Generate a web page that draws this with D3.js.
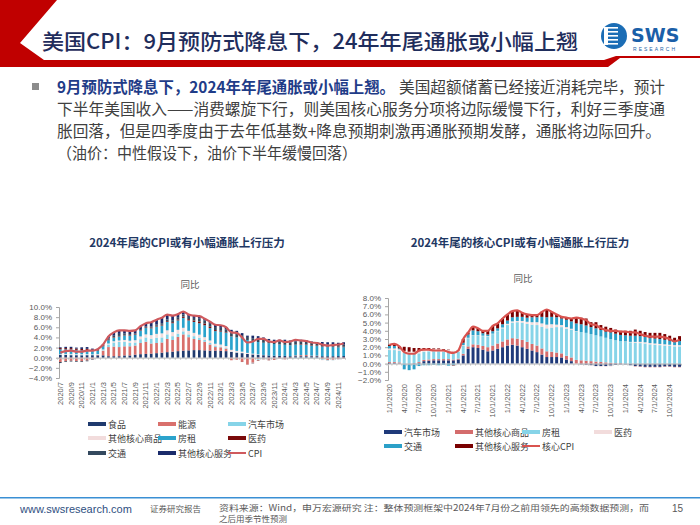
<!DOCTYPE html>
<html><head><meta charset="utf-8">
<script src="https://cdn.jsdelivr.net/npm/d3@7"></script>
<style>body{margin:0;background:#fff}svg{display:block}</style>
</head><body><svg id="s" width="700" height="525"></svg>
<script>
// ---------- DATA: left chart (CPI YoY contributions) ----------
const leftCats = ["2020/7","2020/8","2020/9","2020/10","2020/11","2020/12",
"2021/1","2021/2","2021/3","2021/4","2021/5","2021/6","2021/7","2021/8","2021/9","2021/10","2021/11","2021/12",
"2022/1","2022/2","2022/3","2022/4","2022/5","2022/6","2022/7","2022/8","2022/9","2022/10","2022/11","2022/12",
"2023/1","2023/2","2023/3","2023/4","2023/5","2023/6","2023/7","2023/8","2023/9","2023/10","2023/11","2023/12",
"2024/1","2024/2","2024/3","2024/4","2024/5","2024/6","2024/7","2024/8","2024/9","2024/10","2024/11","2024/12"];
const leftSeriesNames = ["食品","能源","汽车市场","其他核心商品","房租","医药","交通","其他核心服务"];
const food = [0.55,0.55,0.5,0.5,0.48,0.5, 0.5,0.47,0.47,0.3,0.3,0.3,0.45,0.45,0.6,0.7,0.75,0.8, 0.9,1.0,1.1,1.2,1.3,1.4,1.45,1.5,1.5,1.45,1.4,1.4, 1.35,1.3,1.15,1.0,0.9,0.75,0.65,0.55,0.5,0.45,0.4,0.37, 0.35,0.3,0.3,0.3,0.3,0.3,0.3,0.3,0.3,0.3,0.32,0.33];
const energy = [-0.85,-0.7,-0.6,-0.65,-0.7,-0.55, -0.3,0.1,0.9,1.8,1.9,1.8,1.8,1.8,1.8,2.2,2.4,2.0, 2.0,2.0,2.6,2.3,2.8,3.2,2.6,2.2,2.0,1.7,1.2,0.7, 0.7,0.5,-0.5,-0.4,-0.8,-1.3,-1.0,-0.3,-0.05,-0.35,-0.4,-0.15, -0.35,-0.1,0.15,0.2,0.25,0.1,0.1,-0.3,-0.5,-0.4,-0.3,-0.2];
const vehicles = [0.05,0.1,0.15,0.1,0.1,0.1, 0.05,0.05,0.1,0.5,0.8,1.0,0.9,0.7,0.6,0.75,0.85,0.95, 1.05,1.0,0.9,0.75,0.65,0.6,0.55,0.55,0.45,0.35,0.3,0.2, 0.15,0.1,0.05,0.05,0.05,0.0,-0.1,-0.15,-0.15,-0.05,0.0,0.0, -0.05,-0.05,-0.1,-0.1,-0.1,-0.15,-0.15,-0.15,-0.1,-0.1,-0.05,-0.05];
const otherGoods = [0.1,0.1,0.1,0.1,0.1,0.1, 0.1,0.1,0.15,0.2,0.25,0.3,0.35,0.4,0.45,0.55,0.6,0.7, 0.75,0.8,0.8,0.8,0.75,0.7,0.7,0.65,0.6,0.55,0.5,0.45, 0.4,0.4,0.35,0.3,0.25,0.2,0.15,0.1,0.05,0.0,0.0,0.0, -0.05,-0.05,-0.05,-0.05,-0.05,-0.05,-0.05,-0.05,-0.05,-0.05,0.0,0.0];
const rent = [0.95,0.9,0.9,0.85,0.8,0.8, 0.7,0.7,0.65,0.65,0.7,0.8,0.9,1.0,1.05,1.15,1.25,1.35, 1.45,1.55,1.65,1.75,1.85,1.95,2.05,2.15,2.25,2.35,2.45,2.5, 2.55,2.6,2.65,2.65,2.6,2.55,2.5,2.45,2.4,2.4,2.3,2.25, 2.2,2.15,2.1,2.05,2.0,1.95,1.9,1.85,1.8,1.8,1.75,1.75];
const medical = [0.25,0.25,0.25,0.25,0.25,0.25, 0.2,0.15,0.15,0.15,0.1,0.1,0.1,0.1,0.1,0.1,0.1,0.15, 0.15,0.15,0.15,0.2,0.2,0.25,0.25,0.3,0.35,0.35,0.25,0.2, 0.15,0.1,0.05,0.0,-0.05,-0.05,-0.05,-0.1,-0.1,-0.1,-0.05,0.0, 0.0,0.0,0.05,0.1,0.1,0.1,0.1,0.1,0.1,0.1,0.1,0.1];
const transport = [-0.2,-0.15,-0.15,-0.15,-0.15,-0.15, -0.1,-0.05,0.05,0.2,0.3,0.4,0.3,0.2,0.2,0.2,0.2,0.2, 0.25,0.3,0.35,0.4,0.45,0.45,0.45,0.5,0.55,0.6,0.6,0.6, 0.6,0.6,0.6,0.65,0.65,0.6,0.55,0.55,0.55,0.55,0.55,0.55, 0.55,0.55,0.6,0.6,0.55,0.55,0.5,0.45,0.45,0.4,0.4,0.4];
const otherServices = [0.15,0.25,0.25,0.2,0.32,0.35, 0.25,0.18,0.13,0.4,0.65,0.7,0.6,0.65,0.6,0.55,0.65,0.85, 0.95,1.1,0.95,0.9,0.6,0.55,0.45,0.45,0.5,0.35,0.4,0.45, 0.5,0.4,0.65,0.65,0.4,0.25,0.5,0.6,0.5,0.3,0.3,0.38, 0.45,0.4,0.45,0.3,0.25,0.2,0.2,0.4,0.4,0.45,0.38,0.47];
const cpi = [1.0,1.3,1.4,1.2,1.2,1.4, 1.4,1.7,2.6,4.2,5.0,5.4,5.4,5.3,5.4,6.2,6.8,7.0, 7.5,7.9,8.5,8.3,8.6,9.1,8.5,8.3,8.2,7.7,7.1,6.5, 6.4,6.0,5.0,4.9,4.0,3.0,3.2,3.7,3.7,3.2,3.1,3.4, 3.1,3.2,3.5,3.4,3.3,3.0,2.9,2.6,2.4,2.5,2.6,2.8];
const leftTicks = [-4,-2,0,2,4,6,8,10];

// ---------- DATA: right chart (core CPI YoY contributions) ----------
const rightCats = ["1/1/2020","2/1/2020","3/1/2020","4/1/2020","5/1/2020","6/1/2020","7/1/2020","8/1/2020","9/1/2020","10/1/2020","11/1/2020","12/1/2020",
"1/1/2021","2/1/2021","3/1/2021","4/1/2021","5/1/2021","6/1/2021","7/1/2021","8/1/2021","9/1/2021","10/1/2021","11/1/2021","12/1/2021",
"1/1/2022","2/1/2022","3/1/2022","4/1/2022","5/1/2022","6/1/2022","7/1/2022","8/1/2022","9/1/2022","10/1/2022","11/1/2022","12/1/2022",
"1/1/2023","2/1/2023","3/1/2023","4/1/2023","5/1/2023","6/1/2023","7/1/2023","8/1/2023","9/1/2023","10/1/2023","11/1/2023","12/1/2023",
"1/1/2024","2/1/2024","3/1/2024","4/1/2024","5/1/2024","6/1/2024","7/1/2024","8/1/2024","9/1/2024","10/1/2024","11/1/2024","12/1/2024"];
const rightSeriesNames = ["汽车市场","其他核心商品","房租","医药","交通","其他核心服务"];
const rVehicles = [0.1,0.1,0.05,-0.1,-0.1,-0.1,0.1,0.3,0.35,0.4,0.4,0.4, 0.4,0.4,0.5,1.0,1.8,2.0,1.9,1.7,1.5,1.6,1.8,2.0, 2.2,2.3,2.2,2.0,1.8,1.6,1.4,1.1,0.8,0.8,0.8,0.75, 0.5,0.3,0.0,-0.1,-0.15,-0.2,-0.3,-0.3,-0.3,-0.25,-0.15,-0.1, -0.1,-0.2,-0.3,-0.35,-0.4,-0.4,-0.4,-0.4,-0.35,-0.35,-0.4,-0.4];
const rOtherGoods = [0.1,0.1,0.1,0.0,0.0,0.05,0.1,0.15,0.15,0.15,0.15,0.15, 0.15,0.1,0.1,0.2,0.3,0.35,0.4,0.45,0.5,0.6,0.65,0.7, 0.75,0.8,0.85,0.9,0.85,0.8,0.8,0.75,0.7,0.65,0.55,0.5, 0.45,0.45,0.45,0.4,0.35,0.3,0.25,0.2,0.15,0.1,0.05,0.05, 0.0,0.0,-0.05,-0.05,-0.05,-0.05,-0.05,-0.05,-0.05,-0.05,-0.05,-0.05];
const rRent = [1.45,1.45,1.4,1.3,1.2,1.15,1.05,1.0,1.0,0.95,0.95,0.9, 0.9,0.9,0.85,0.95,1.0,1.05,1.1,1.2,1.3,1.4,1.5,1.6, 1.75,1.9,2.0,2.1,2.2,2.35,2.5,2.65,2.8,2.95,3.1,3.2, 3.3,3.4,3.45,3.45,3.4,3.3,3.2,3.1,3.0,2.9,2.8,2.7, 2.65,2.6,2.55,2.5,2.45,2.35,2.3,2.25,2.2,2.15,2.1,2.1];
const rMedical = [0.2,0.2,0.2,0.25,0.25,0.25,0.25,0.25,0.25,0.25,0.25,0.2, 0.2,0.15,0.1,0.1,0.05,0.05,0.05,0.05,0.05,0.05,0.05,0.1, 0.15,0.15,0.15,0.2,0.25,0.3,0.35,0.4,0.45,0.4,0.3,0.25, 0.2,0.1,0.05,0.0,-0.05,-0.05,-0.05,-0.1,-0.1,-0.1,0.0,0.0, 0.05,0.05,0.1,0.15,0.15,0.15,0.15,0.15,0.15,0.15,0.15,0.15];
const rTransport = [0.3,0.3,0.1,-0.6,-0.7,-0.6,-0.3,-0.2,-0.2,-0.15,-0.2,-0.15, -0.25,-0.2,0.0,0.3,0.4,0.6,0.5,0.3,0.2,0.3,0.3,0.4, 0.4,0.5,0.5,0.5,0.5,0.6,0.6,0.8,0.9,0.9,0.9,0.8, 0.9,0.9,0.95,0.95,0.9,0.85,0.85,0.8,0.75,0.8,0.8,0.75, 0.75,0.75,0.75,0.7,0.65,0.6,0.6,0.6,0.55,0.5,0.45,0.5];
const rOtherServices = [0.15,0.25,0.25,0.5,0.55,0.45,0.4,0.2,0.15,0.1,0.1,0.1, 0.05,-0.05,0.05,0.45,0.25,0.45,0.35,0.3,0.45,0.65,0.6,0.7, 0.75,0.75,0.8,0.5,0.4,0.25,0.25,0.6,0.95,0.6,0.35,0.2, 0.25,0.35,0.7,0.8,0.85,0.6,0.75,0.6,0.6,0.55,0.5,0.5, 0.55,0.6,0.75,0.65,0.6,0.65,0.7,0.75,0.7,0.6,0.45,0.6];
const coreCpi = [2.3,2.4,2.1,1.4,1.2,1.2,1.6,1.7,1.7,1.6,1.6,1.6, 1.4,1.3,1.6,3.0,3.8,4.5,4.3,4.0,4.0,4.6,4.9,5.5, 6.0,6.4,6.5,6.2,6.0,5.9,5.9,6.3,6.6,6.3,6.0,5.7, 5.6,5.5,5.6,5.5,5.3,4.8,4.7,4.3,4.1,4.0,4.0,3.9, 3.9,3.8,3.8,3.6,3.4,3.3,3.3,3.3,3.2,3.0,2.7,2.9];
const rightTicks = [-2,-1,0,1,2,3,4,5,6,7,8];

// ---------- TEXT ----------
const slideTitle = "美国CPI：9月预防式降息下，24年年尾通胀或小幅上翘";
const bodyBold = "9月预防式降息下，2024年年尾通胀或小幅上翘。";
const bodyLines = ["美国超额储蓄已经接近消耗完毕，预计",
"下半年美国收入——消费螺旋下行，则美国核心服务分项将边际缓慢下行，利好三季度通",
"胀回落，但是四季度由于去年低基数+降息预期刺激再通胀预期发酵，通胀将边际回升。",
"（油价：中性假设下，油价下半年缓慢回落）"];
const leftTitle = "2024年尾的CPI或有小幅通胀上行压力";
const rightTitle = "2024年尾的核心CPI或有小幅通胀上行压力";
const subTitle = "同比";
const footerSite = "www.swsresearch.com";
const footerType = "证券研究报告";
const footerSrc1 = "资料来源：Wind，申万宏源研究  注：整体预测框架中2024年7月份之前用领先的高频数据预测，而";
const footerSrc2 = "之后用季节性预测";
const pageNo = "15";

// ---------- DRAW ----------
const svg = d3.select("#s");
const CJK = "'Noto Sans CJK SC','Noto Sans',sans-serif";
const LAT = "'Liberation Sans',Arial,sans-serif";

// header decorations
svg.append("path").attr("d","M0,0 L57,0 L20,43 L44,60 L0,60 Z").attr("fill","#c00000");
svg.append("path").attr("d","M0,60 L604,60 L616,56 L700,56 L700,58 L620,58 L608,67 L0,67 Z").attr("fill","#c00000");
svg.append("text").attr("x",42).attr("y",49).attr("font-family",CJK).attr("font-weight",500)
  .attr("font-size",21).attr("fill","#1f2d5c").attr("textLength",536).attr("lengthAdjust","spacingAndGlyphs").text(slideTitle);
// logo
const lg = svg.append("g");
lg.append("circle").attr("cx",614).attr("cy",36).attr("r",13).attr("fill","#1b6db5");
[28,32,36,40,44].forEach(yy=>lg.append("rect").attr("x",606).attr("y",yy-1).attr("width",12).attr("height",1.6).attr("fill","#fff"));
lg.append("rect").attr("x",604).attr("y",27).attr("width",4).attr("height",18).attr("fill","#fff");
lg.append("text").attr("x",631).attr("y",42).attr("font-family","'DejaVu Sans',sans-serif").attr("font-weight",700)
  .attr("font-size",19).attr("fill","#1b5fa8").text("SWS");
lg.append("text").attr("x",633).attr("y",51).attr("font-family",LAT).attr("font-size",5).attr("fill","#1b5fa8").attr("textLength",42).text("RESEARCH");

// body
svg.append("rect").attr("x",32).attr("y",83).attr("width",7).attr("height",7).attr("fill","#8c8c8c");
svg.append("text").attr("x",57).attr("y",93).attr("font-family",CJK).attr("font-weight",700).attr("font-size",15.5)
  .attr("fill","#1f3c88").attr("textLength",338).attr("lengthAdjust","spacingAndGlyphs").text(bodyBold);
const bodyX = [399,57,57,57], bodyY=[93,115,137,159], bodyW=[266,608,604,300];
bodyLines.forEach((t,i)=>svg.append("text").attr("x",bodyX[i]).attr("y",bodyY[i]).attr("font-family",CJK)
  .attr("font-size",15.5).attr("fill","#404040").attr("textLength",bodyW[i]).attr("lengthAdjust","spacingAndGlyphs").text(t));

// chart helper
function drawChart(cfg){
  const g = svg.append("g");
  const x = d3.scaleBand().domain(cfg.cats).range(cfg.xr).paddingInner(cfg.pad);
  const y = d3.scaleLinear().domain(cfg.yd).range(cfg.yr);
  const rows = cfg.cats.map((c,i)=>{const o={cat:c}; cfg.keys.forEach((k,j)=>o[k]=cfg.series[j][i]); return o;});
  const stacked = d3.stack().keys(cfg.keys).offset(d3.stackOffsetDiverging)(rows);
  g.append("text").attr("x",cfg.tx).attr("y",cfg.ty).attr("text-anchor","middle").attr("font-family",CJK)
    .attr("font-weight",700).attr("font-size",11.5).attr("fill","#1f3864").text(cfg.title);
  g.append("text").attr("x",cfg.sx).attr("y",cfg.sy).attr("text-anchor","middle").attr("font-family",CJK)
    .attr("font-size",9.5).attr("fill","#595959").text(subTitle);
  const ya = g.append("g").attr("transform",`translate(${cfg.xr[0]},0)`)
    .call(d3.axisLeft(y).tickValues(cfg.ticks).tickSize(3).tickFormat(d=>d3.format(".1f")(d)+"%"));
  ya.select(".domain").attr("stroke","#a6a6a6");
  ya.selectAll(".tick line").attr("stroke","#a6a6a6");
  ya.selectAll("text").attr("font-family",LAT).attr("font-size",8).attr("fill","#595959").attr("dx",-1);
  stacked.forEach((s,j)=>{
    g.append("g").attr("fill",cfg.colors[j]).selectAll("rect").data(s).join("rect")
      .attr("x",d=>x(d.data.cat)).attr("width",x.bandwidth())
      .attr("y",d=>y(Math.max(d[0],d[1]))).attr("height",d=>Math.abs(y(d[0])-y(d[1])));
  });
  const xa = g.append("g").attr("transform",`translate(0,${y(0)})`)
    .call(d3.axisBottom(x).tickSize(2).tickFormat(""));
  xa.select(".domain").attr("stroke","#bfbfbf");
  xa.selectAll(".tick line").attr("stroke","#bfbfbf").attr("transform",`translate(${-x.step()/2},0)`);
  g.append("g").selectAll("text").data(cfg.cats.filter((c,i)=>i%cfg.every===0)).join("text")
    .attr("transform",d=>`translate(${x(d)+x.bandwidth()/2+2.5},${cfg.yr[0]+4}) rotate(-90)`)
    .attr("text-anchor","end").attr("font-family",LAT).attr("font-size",7.5).attr("fill","#595959").text(d=>d);
  const line = d3.line().x((d,i)=>x(cfg.cats[i])+x.bandwidth()/2).y(d=>y(d)).curve(d3.curveMonotoneX);
  g.append("path").datum(cfg.line).attr("d",line).attr("fill","none").attr("stroke",cfg.lineColor).attr("stroke-width",2.2);
  const items = cfg.keys.map((k,j)=>({name:k,color:cfg.colors[j],type:"bar"})).concat([{name:cfg.lineName,color:cfg.lineColor,type:"line"}]);
  items.forEach((it,i)=>{
    const col=i%cfg.lcols.length,row=Math.floor(i/cfg.lcols.length);
    const lx=cfg.lcols[col], ly=cfg.lrows[row];
    if(it.type==="bar") g.append("rect").attr("x",lx).attr("y",ly-2).attr("width",18).attr("height",4).attr("fill",it.color);
    else g.append("rect").attr("x",lx).attr("y",ly-1).attr("width",18).attr("height",2).attr("fill",it.color);
    g.append("text").attr("x",lx+20).attr("y",ly+3.5).attr("font-family",CJK).attr("font-size",9).attr("fill","#404040").text(it.name);
  });
}

drawChart({cats:leftCats,xr:[59,345],pad:0.5,yd:[-4,10],yr:[378,307],ticks:leftTicks,every:2,
  keys:leftSeriesNames,series:[food,energy,vehicles,otherGoods,rent,medical,transport,otherServices],
  colors:["#1f3a6e","#d9706c","#86d4e8","#f2dcdc","#2ba3cc","#7a0a0a","#34495e","#1a2b6b"],
  line:cpi,lineColor:"#cf5a5e",lineName:"CPI",
  title:leftTitle,tx:187,ty:247,sx:190,sy:288,
  lcols:[88,158,228],lrows:[424,438,453]});

drawChart({cats:rightCats,xr:[388,681],pad:0.4,yd:[-2,8],yr:[380,298],ticks:rightTicks,every:3,
  keys:rightSeriesNames,series:[rVehicles,rOtherGoods,rRent,rMedical,rTransport,rOtherServices],
  colors:["#1f3a7a","#d46c6c","#86d4e8","#f2dcdc","#2ba0c8","#7a0000"],
  line:coreCpi,lineColor:"#d9534f",lineName:"核心CPI",
  title:rightTitle,tx:520,ty:247,sx:523,sy:282,
  lcols:[384,455,522,594],lrows:[432,446]});

// footer
svg.append("rect").attr("x",0).attr("y",497).attr("width",700).attr("height",1.5).attr("fill","#3a8fd4");
svg.append("text").attr("x",20).attr("y",513).attr("font-family",LAT).attr("font-size",11).attr("fill","#2f4f7f").text(footerSite);
svg.append("text").attr("x",150).attr("y",512).attr("font-family",CJK).attr("font-size",8.5).attr("fill","#595959").text(footerType);
svg.append("text").attr("x",219).attr("y",511).attr("font-family",CJK).attr("font-size",8.5).attr("fill","#595959").attr("textLength",430).attr("lengthAdjust","spacingAndGlyphs").text(footerSrc1);
svg.append("text").attr("x",219).attr("y",521.5).attr("font-family",CJK).attr("font-size",8.5).attr("fill","#595959").text(footerSrc2);
svg.append("text").attr("x",672).attr("y",512).attr("font-family",LAT).attr("font-size",10).attr("fill","#595959").text(pageNo);
</script></body></html>
